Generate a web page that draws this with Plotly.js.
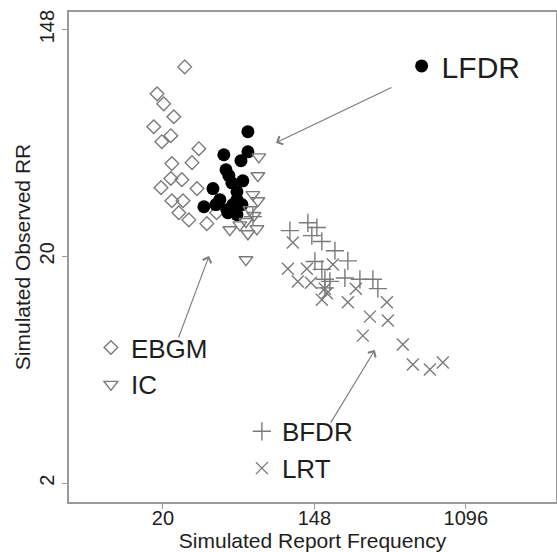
<!DOCTYPE html>
<html>
<head>
<meta charset="utf-8">
<script src="https://cdn.plot.ly/plotly-3.0.1.min.js"></script>
<style>html,body{margin:0;padding:0;background:#fff}#chart{width:557px;height:552px}</style>
</head>
<body>
<div id="chart"></div>
<script>
// Simulated report frequency (x) and simulated observed RR (y)
var ebgmX = [26.8, 18.6, 20.3, 23.2, 17.8, 22.3, 19.8, 32.3, 22.6, 29.5, 22.3, 25.8, 19.6, 31.5, 22.6, 26.2, 24.8, 28.3, 35.9, 40.8];
var ebgmY = [106.8, 84.2, 77.1, 68.8, 63.0, 58.2, 55.2, 51.9, 45.5, 45.9, 39.9, 39.5, 36.8, 36.5, 32.8, 32.8, 29.5, 27.7, 26.8, 29.5];

var lfdrX = [61.7, 61.7, 44.9, 56.3, 46.2, 48.0, 49.9, 57.7, 38.9, 53.4, 42.6, 53.4, 34.5, 40.4, 46.8, 57.0, 53.4, 47.4, 50.6];
var lfdrY = [60.3, 50.5, 49.2, 46.7, 43.1, 40.9, 38.4, 39.1, 36.5, 35.5, 33.1, 33.1, 31.1, 31.7, 30.3, 31.7, 29.0, 29.5, 31.7];

var icX = [71.3, 70.4, 65.9, 70.4, 63.4, 66.8, 48.6, 55.5, 61.7, 69.5, 60.1, 60.1];
var icY = [48.3, 40.9, 34.6, 32.8, 30.3, 28.8, 25.4, 26.5, 24.5, 25.6, 19.5, 27.3];

var bfdrX = [107.4, 136.2, 153.4, 143.5, 163.8, 194.6, 230.9, 149.4, 163.8, 170.5, 182.1, 222, 270.8, 321.3, 343.2, 170.5, 65.9];
var bfdrY = [25.2, 27.0, 25.9, 24.1, 22.9, 21.1, 19.3, 19.2, 17.9, 16.4, 16.1, 16.6, 16.4, 16.4, 15.1, 15.2, 28.5];

var lrtX = [111.7, 104.6, 134.4, 119.3, 141.8, 189.4, 170.5, 175.0, 163.8, 230.9, 256.5, 386.5, 309, 391.5, 281.4, 477, 544.6, 681.8, 809];
var lrtY = [22.7, 18.0, 18.0, 16.1, 15.9, 18.7, 15.1, 14.5, 13.7, 13.4, 15.1, 13.4, 11.8, 11.4, 9.98, 9.23, 7.74, 7.40, 7.87];

var xTickVals = [Math.exp(3), Math.exp(5), Math.exp(7)];
var xTickText = ['20', '148', '1096'];
var yTickVals = [Math.exp(1), Math.exp(3), Math.exp(5)];
var yTickText = ['2', '20', '148'];

var gray = '#7a7a7a';
var txt = '#1e1e1e';
var font = 'Liberation Sans, Arial, sans-serif';

var traces = [
  {x: ebgmX, y: ebgmY, name: 'EBGM', mode: 'markers', type: 'scatter', legend: 'legend',
   marker: {symbol: 'diamond-open', size: 10.5, color: gray, line: {width: 1.4, color: gray}}},
  {x: lfdrX, y: lfdrY, name: 'LFDR', mode: 'markers', type: 'scatter', legend: 'legend3',
   marker: {symbol: 'circle', size: 13, color: '#000'}},
  {x: icX, y: icY, name: 'IC', mode: 'markers', type: 'scatter', legend: 'legend',
   marker: {symbol: 'triangle-down-open', size: 12, color: gray, line: {width: 1.4, color: gray}}},
  {x: bfdrX, y: bfdrY, name: 'BFDR', mode: 'markers', type: 'scatter', legend: 'legend2',
   marker: {symbol: 'cross-thin-open', size: 13, color: gray, line: {width: 1.4, color: gray}}},
  {x: lrtX, y: lrtY, name: 'LRT', mode: 'markers', type: 'scatter', legend: 'legend2',
   marker: {symbol: 'x-thin-open', size: 12, color: gray, line: {width: 1.4, color: gray}}}
];

var legFont = {family: font, size: 26, color: txt};
var layout = {
  width: 557, height: 552,
  margin: {l: 69, r: 1, t: 12, b: 50},
  paper_bgcolor: '#fff', plot_bgcolor: '#fff',
  showlegend: true,
  font: {family: font, size: 20, color: txt},
  xaxis: {
    type: 'log', range: [0.7644, 3.557],
    tickvals: xTickVals, ticktext: xTickText,
    showgrid: false, zeroline: false,
    showline: true, mirror: true, linecolor: '#9a9a9a', linewidth: 2,
    ticks: 'outside', ticklen: 5, tickcolor: '#9a9a9a', tickwidth: 1,
    ticklabelstandoff: -8,
    tickfont: {family: font, size: 20, color: txt},
    title: {text: 'Simulated Report Frequency', font: {family: font, size: 21, color: txt}, standoff: 3}
  },
  yaxis: {
    type: 'log', range: [0.3618, 2.2388],
    tickvals: yTickVals, ticktext: yTickText, tickangle: -90,
    showgrid: false, zeroline: false,
    showline: true, mirror: true, linecolor: '#9a9a9a', linewidth: 2,
    ticks: 'outside', ticklen: 5, tickcolor: '#9a9a9a', tickwidth: 1,
    tickfont: {family: font, size: 20, color: txt},
    title: {text: 'Simulated Observed RR', font: {family: font, size: 21, color: txt}, standoff: 0}
  },
  legend: {x: 0.045, y: 0.363, xanchor: 'left', yanchor: 'top', bgcolor: 'rgba(0,0,0,0)', font: legFont, tracegroupgap: 0},
  legend2: {x: 0.355, y: 0.192, xanchor: 'left', yanchor: 'top', bgcolor: 'rgba(0,0,0,0)', font: legFont, tracegroupgap: 0},
  legend3: {x: 0.683, y: 0.943, xanchor: 'left', yanchor: 'top', bgcolor: 'rgba(0,0,0,0)', font: {family: font, size: 30, color: txt}},
  annotations: [
    {xref: 'paper', yref: 'paper', x: 0.425, y: 0.733, ax: 117, ay: -56, showarrow: true, arrowhead: 4, arrowsize: 1.6, arrowwidth: 1.1, arrowcolor: gray, text: ''},
    {xref: 'paper', yref: 'paper', x: 0.2875, y: 0.502, ax: -31, ay: 83, showarrow: true, arrowhead: 4, arrowsize: 1.6, arrowwidth: 1.1, arrowcolor: gray, text: ''},
    {xref: 'paper', yref: 'paper', x: 0.628, y: 0.310, ax: -45, ay: 74, showarrow: true, arrowhead: 4, arrowsize: 1.6, arrowwidth: 1.1, arrowcolor: gray, text: ''}
  ]
};

Plotly.newPlot('chart', traces, layout, {displayModeBar: false, staticPlot: true});
</script>
</body>
</html>
